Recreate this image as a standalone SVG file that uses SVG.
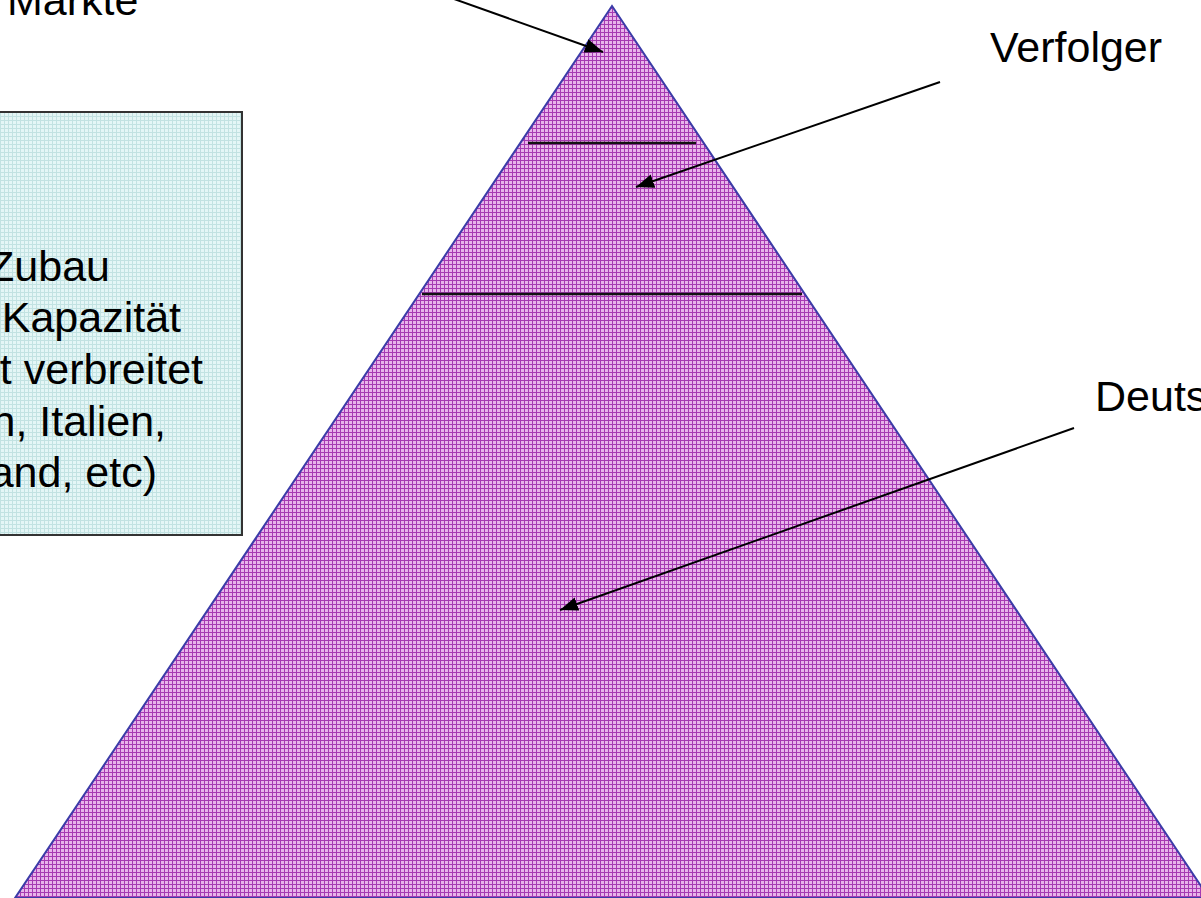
<svg xmlns="http://www.w3.org/2000/svg" width="1201" height="898" viewBox="0 0 1201 898">
<style>
text{font-family:"Liberation Sans",Arial,sans-serif;font-size:43px;fill:#000}
.conn{stroke:#000;stroke-width:2;fill:none;marker-end:url(#ah)}
.sep{stroke:#111;stroke-width:2.5}
</style>
<defs>
<pattern id="pink" width="4" height="4" patternUnits="userSpaceOnUse">
<rect width="4" height="4" fill="#e8b4ea"/>
<path d="M0 0.5H4M0.5 0V4" stroke="#a63ab2" stroke-width="1"/>
</pattern>
<pattern id="cyan" width="4" height="4" patternUnits="userSpaceOnUse">
<rect width="4" height="4" fill="#e4f6f6"/>
<path d="M0 0.5H4M0.5 0V4" stroke="#c2e2e2" stroke-width="1"/>
</pattern>
<marker id="ah" markerUnits="userSpaceOnUse" markerWidth="20" markerHeight="16" refX="18" refY="7" orient="auto">
<path d="M0 0L18 7L0 14Z" fill="#000"/>
</marker>
</defs>
<g id="pyramid">
<polygon points="612,6 15,898 1209,898" fill="url(#pink)" stroke="#3c3ca8" stroke-width="2"/>
<line class="sep" x1="528" y1="143" x2="696" y2="143"/>
<line class="sep" x1="422" y1="294" x2="802" y2="294"/>
</g>
<g id="infobox">
<rect x="-10" y="112" width="252" height="423" fill="url(#cyan)" stroke="#333" stroke-width="2"/>
<text x="110" y="281" text-anchor="end">Zubau</text>
<text x="181" y="332" text-anchor="end">Kapazität</text>
<text x="203" y="384" text-anchor="end">t verbreitet</text>
<text x="166" y="436" text-anchor="end">n, Italien,</text>
<text x="157" y="487" text-anchor="end">and, etc)</text>
</g>
<g id="label-maerkte"><text x="7" y="15">Märkte</text></g>
<g id="label-verfolger"><text x="990" y="62">Verfolger</text></g>
<g id="label-deutsch"><text x="1095" y="411">Deuts</text></g>
<g id="connectors">
<line class="conn" x1="440" y1="-6" x2="603" y2="52"/>
<line class="conn" x1="940" y1="82" x2="636" y2="187"/>
<line class="conn" x1="1074" y1="428" x2="560" y2="610"/>
</g>
</svg>
